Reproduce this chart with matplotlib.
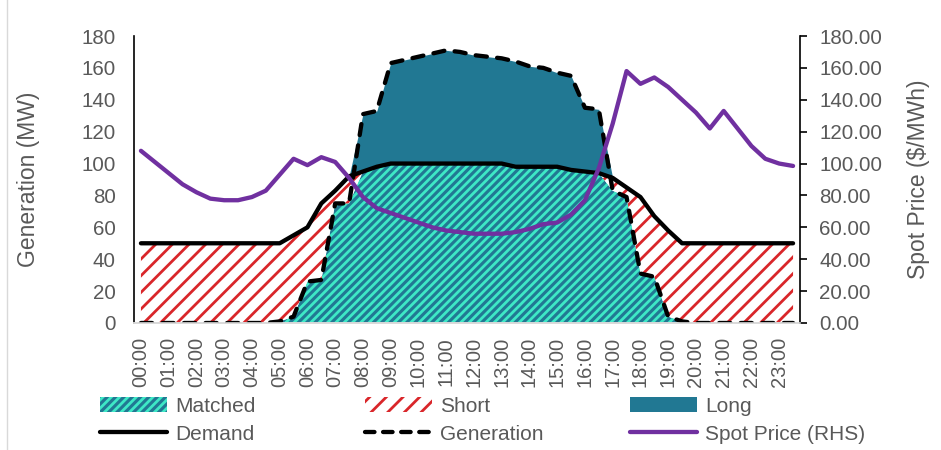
import numpy as np
import matplotlib
matplotlib.use("Agg")
import matplotlib.pyplot as plt
from matplotlib.patches import Patch
from matplotlib.lines import Line2D

plt.rcParams['font.family'] = ['Liberation Sans', 'DejaVu Sans']
plt.rcParams['hatch.linewidth'] = 2.0

# half-hourly categories, labelled every hour
tick_labels = ["%02d:00" % h for h in range(24)]

demand = [50, 50, 50, 50, 50, 50, 50, 50, 50, 50, 50, 55, 60, 75, 83, 92,
          95, 98, 100, 100, 100, 100, 100, 100, 100, 100, 100, 98, 98, 98, 98, 96,
          95, 94, 91, 85, 79, 67, 58, 50, 50, 50, 50, 50, 50, 50, 50, 50]

generation = [0, 0, 0, 0, 0, 0, 0, 0, 0, 0, 1, 4, 26, 27, 75, 75,
              131, 133, 163, 165, 167, 169, 171, 170, 168, 167, 166, 164, 161, 160, 157, 155,
              135, 134, 83, 79, 31, 29, 4, 1, 0, 0, 0, 0, 0, 0, 0, 0]

spot_price = [108, 101, 94, 87, 82, 78, 77, 77, 79, 83, 93, 103, 99, 104, 101, 91,
              79, 72, 69, 66, 63, 60, 58, 57, 56, 56, 56, 57, 59, 62, 63, 68,
              77, 97, 125, 158, 150, 154, 148, 140, 132, 122, 133, 122, 111, 103, 100, 98.5]

D = np.array(demand, float)
G = np.array(generation, float)
P = np.array(spot_price, float)
x = np.arange(len(D))

matched = np.minimum(D, G)
short = D - matched
long_ = G - matched

TEAL = '#217893'
AQUA = '#3ee8c6'
RED = '#d9262a'
PURPLE = '#7030a0'
GREY = '#595959'

fig = plt.figure(figsize=(9.41, 4.5), dpi=100)
ax = fig.add_axes([134/941, 1-323/450, (800-134)/941, (323-36)/450])
ax2 = ax.twinx()

ax.fill_between(x, 0, matched, facecolor=TEAL, edgecolor=AQUA, hatch='////', linewidth=0, zorder=1)
ax.fill_between(x, matched, matched+short, facecolor='white', edgecolor=RED, hatch='//', linewidth=0, zorder=1)
ax.fill_between(x, matched+short, matched+short+long_, facecolor=TEAL, edgecolor=TEAL, linewidth=0, zorder=1)

ax.plot(x, D, color='black', lw=3.1, solid_capstyle='round', solid_joinstyle='round', zorder=3)
ax.plot(x, G, color='black', lw=3.1, linestyle=(0, (2.6, 2.4)), dash_capstyle='round',
        dash_joinstyle='round', zorder=3)
ax2.plot(x, P, color=PURPLE, lw=3.1, solid_capstyle='round', solid_joinstyle='round', zorder=3)

ax.set_xlim(-0.5, len(D)-0.5)
ax.set_ylim(0, 180)
ax2.set_ylim(0, 180)
ax.set_yticks(np.arange(0, 181, 20))
ax2.set_yticks(np.arange(0, 181, 20))
ax2.set_yticklabels(["%.2f" % v for v in np.arange(0, 181, 20)])
ax.set_xticks(np.arange(0, len(D), 2))
ax.set_xticklabels(tick_labels, rotation=90)

ax.tick_params(axis='y', length=0, pad=13, labelsize=14.8, labelcolor=GREY)
ax.tick_params(axis='x', length=0, pad=10, labelsize=14.5, labelcolor=GREY)
ax2.tick_params(axis='y', length=5, width=1.2, direction='out', pad=9, labelsize=14.8,
                labelcolor=GREY, color='black')

for a in (ax, ax2):
    a.spines['top'].set_visible(False)
    a.spines['bottom'].set_color('#d9d9d9')
    a.spines['bottom'].set_linewidth(1.2)
ax.spines['right'].set_visible(False)
ax2.spines['left'].set_visible(False)
ax.spines['left'].set_linewidth(1.2)
ax2.spines['right'].set_linewidth(1.2)
ax.set_zorder(ax2.get_zorder() - 1)
ax2.patch.set_visible(False)

ax.set_ylabel("Generation (MW)", fontsize=16.5, color=GREY)
ax2.set_ylabel("Spot Price ($/MWh)", fontsize=16.5, color=GREY)
ax.yaxis.set_label_coords(-(134-40)/666, 0.5)
ax2.yaxis.set_label_coords(1+(907-800)/666, 0.5)

# legend, three columns placed explicitly
h_matched = Patch(facecolor=TEAL, edgecolor=AQUA, hatch='////', linewidth=0)
h_short = Patch(facecolor='white', edgecolor=RED, hatch='//', linewidth=0)
h_long = Patch(facecolor=TEAL, edgecolor=TEAL, linewidth=0)
h_dem = Line2D([], [], color='black', lw=3.1, solid_capstyle='round')
h_gen = Line2D([], [], color='black', lw=3.1, linestyle=(0, (2.2, 2.0)), dash_capstyle='round')
h_spot = Line2D([], [], color=PURPLE, lw=3.1, solid_capstyle='round')

cols = [((h_matched, h_dem), ("Matched", "Demand"), 100),
        ((h_short, h_gen), ("Short", "Generation"), 365),
        ((h_long, h_spot), ("Long", "Spot Price (RHS)"), 630)]
for hs, ls, xp in cols:
    leg = fig.legend(hs, ls, loc='upper left', bbox_to_anchor=(xp/941, 1-397/450),
                     frameon=False, fontsize=15, handlelength=3.2, handleheight=0.75,
                     handletextpad=0.4, borderpad=0, borderaxespad=0, labelspacing=0.42,
                     labelcolor=GREY)

fig.add_artist(Line2D([7/941, 7/941], [0, 1], color='#d9d9d9', lw=1, transform=fig.transFigure))

fig.savefig("out.png", dpi=100)
